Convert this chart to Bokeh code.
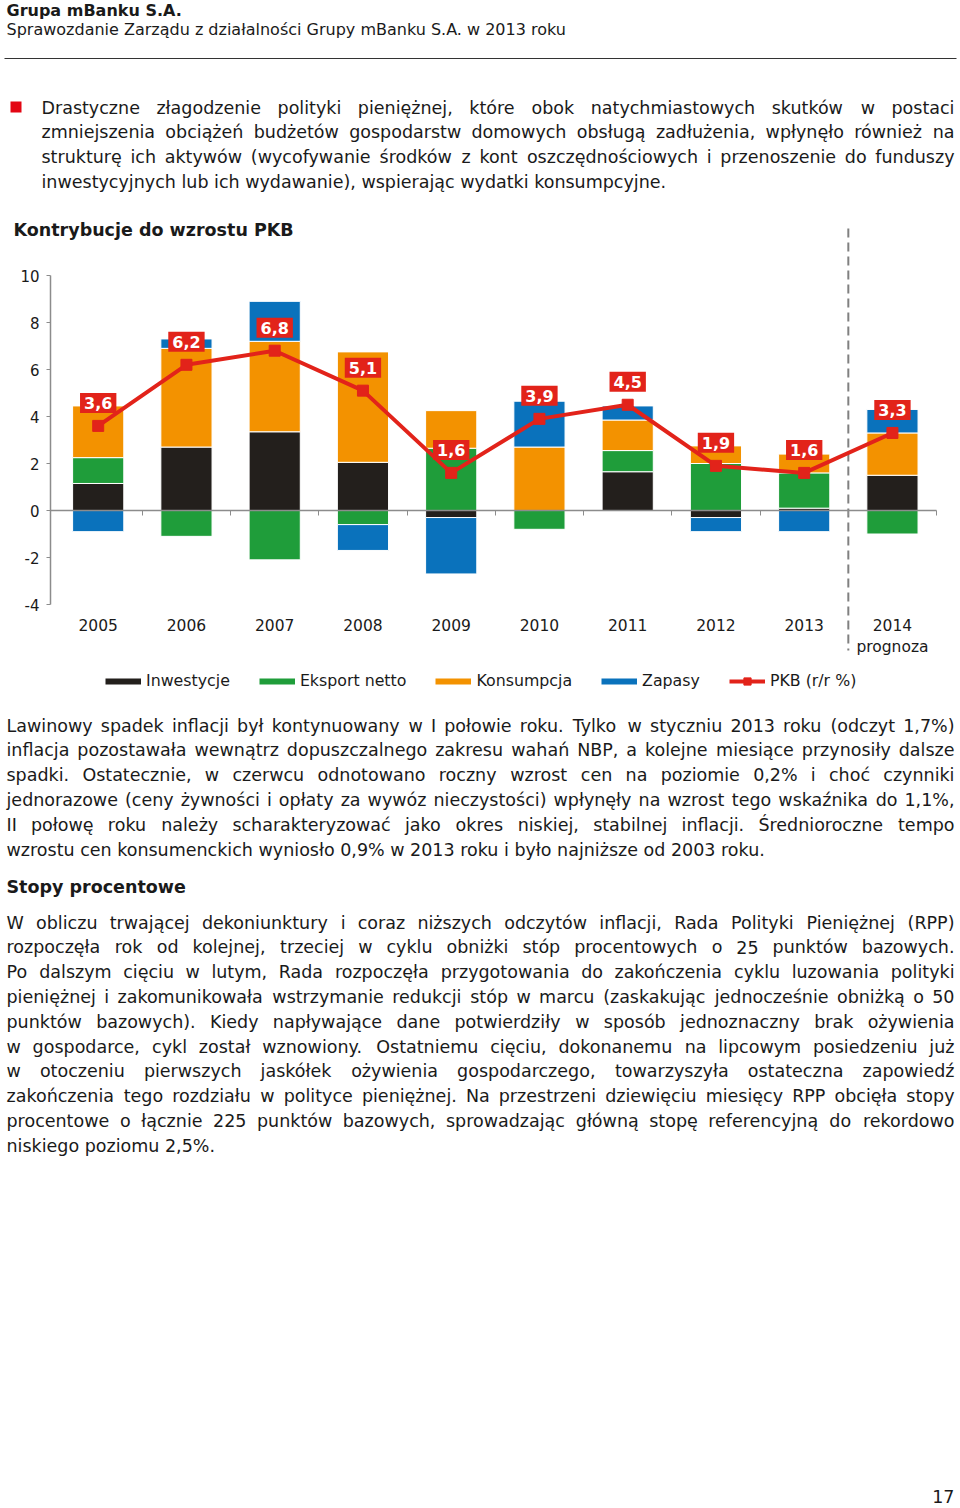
import numpy as np
from bokeh.plotting import figure
from bokeh.models import (ColumnDataSource, Range1d, FixedTicker, LabelSet, Label,
                          Legend, LegendItem, BoxAnnotation)
from bokeh.core.properties import value
from bokeh.embed import file_html
from bokeh.resources import INLINE

# ---------------- data ----------------
years = ["2005", "2006", "2007", "2008", "2009", "2010", "2011", "2012", "2013", "2014"]
year_labels = ["2005", "2006", "2007", "2008", "2009", "2010", "2011", "2012", "2013", "2014\nprognoza"]
inwestycje = [1.15, 2.7, 3.35, 2.05, -0.3, 0.0, 1.65, -0.3, 0.1, 1.5]
eksport_netto = [1.1, -1.1, -2.1, -0.6, 2.65, -0.8, 0.9, 2.0, 1.5, -1.0]
konsumpcja = [2.2, 4.2, 3.85, 4.7, 1.6, 2.7, 1.3, 0.75, 0.8, 1.8]
zapasy = [-0.9, 0.4, 1.7, -1.1, -2.4, 1.95, 0.6, -0.6, -0.9, 1.0]
pkb = [3.6, 6.2, 6.8, 5.1, 1.6, 3.9, 4.5, 1.9, 1.6, 3.3]
series_names = ["Inwestycje", "Eksport netto", "Konsumpcja", "Zapasy"]
pkb_name = "PKB (r/r %)"
y_ticks = [-4, -2, 0, 2, 4, 6, 8, 10]
y_tick_labels = ["-4", "-2", "0", "2", "4", "6", "8", "10"]

chart_title = "Kontrybucje do wzrostu PKB"
header_bold = "Grupa mBanku S.A."
header_sub = "Sprawozdanie Zarządu z działalności Grupy mBanku S.A. w 2013 roku"
bullet_lines = [
    "Drastyczne złagodzenie polityki pieniężnej, które obok natychmiastowych skutków w postaci",
    "zmniejszenia obciążeń budżetów gospodarstw domowych obsługą zadłużenia, wpłynęło również na",
    "strukturę ich aktywów (wycofywanie środków z kont oszczędnościowych i przenoszenie do funduszy",
    "inwestycyjnych lub ich wydawanie), wspierając wydatki konsumpcyjne.",
]
para2_lines = [
    "Lawinowy spadek inflacji był kontynuowany w I połowie roku. Tylko w styczniu 2013 roku (odczyt 1,7%)",
    "inflacja pozostawała wewnątrz dopuszczalnego zakresu wahań NBP, a kolejne miesiące przynosiły dalsze",
    "spadki. Ostatecznie, w czerwcu odnotowano roczny wzrost cen na poziomie 0,2% i choć czynniki",
    "jednorazowe (ceny żywności i opłaty za wywóz nieczystości) wpłynęły na wzrost tego wskaźnika do 1,1%,",
    "II połowę roku należy scharakteryzować jako okres niskiej, stabilnej inflacji. Średnioroczne tempo",
    "wzrostu cen konsumenckich wyniosło 0,9% w 2013 roku i było najniższe od 2003 roku.",
]
section_title = "Stopy procentowe"
para3_lines = [
    "W obliczu trwającej dekoniunktury i coraz niższych odczytów inflacji, Rada Polityki Pieniężnej (RPP)",
    "rozpoczęła rok od kolejnej, trzeciej w cyklu obniżki stóp procentowych o 25 punktów bazowych.",
    "Po dalszym cięciu w lutym, Rada rozpoczęła przygotowania do zakończenia cyklu luzowania polityki",
    "pieniężnej i zakomunikowała wstrzymanie redukcji stóp w marcu (zaskakując jednocześnie obniżką o 50",
    "punktów bazowych). Kiedy napływające dane potwierdziły w sposób jednoznaczny brak ożywienia",
    "w gospodarce, cykl został wznowiony. Ostatniemu cięciu, dokonanemu na lipcowym posiedzeniu już",
    "w otoczeniu pierwszych jaskółek ożywienia gospodarczego, towarzyszyła ostateczna zapowiedź",
    "zakończenia tego rozdziału w polityce pieniężnej. Na przestrzeni dziewięciu miesięcy RPP obcięła stopy",
    "procentowe o łącznie 225 punktów bazowych, sprowadzając główną stopę referencyjną do rekordowo",
    "niskiego poziomu 2,5%.",
]
page_number = "17"

# ---------------- style / layout ----------------
FONT = "DejaVu Sans"
COLORS = ["#231f1c", "#1f9d3a", "#f39200", "#0a72bc"]
RED = "#e2231a"
TEXT = "#1a1a1a"
AXIS = "#8c8c8c"
BODY_FS = 17.5

W, H = 960, 1508
PX_PER_UNIT = 23.5      # vertical pixels per percentage point
ZERO_PAGE_Y = 510       # page y of value 0
PX_PER_CAT = 88.25      # horizontal pixels per category
CAT0_PAGE_X = 97.7      # page x of the first category
AXIS_PAGE_X = 50        # page x of the value axis

x_start = -CAT0_PAGE_X / PX_PER_CAT
x_end = (W - CAT0_PAGE_X) / PX_PER_CAT
y_end = ZERO_PAGE_Y / PX_PER_UNIT
y_start = -(H - ZERO_PAGE_Y) / PX_PER_UNIT
axis_x = (AXIS_PAGE_X - CAT0_PAGE_X) / PX_PER_CAT


def sx(px):
    return px


def sy(py):
    return H - py


def vy(py):
    return (ZERO_PAGE_Y - py) / PX_PER_UNIT


# DejaVu Sans advance widths (units per em 2048), used to justify text lines
ADV = {' ': 651, '!': 821, '%': 1946, '(': 799, ')': 799, ',': 651, '-': 739, '.': 651, '/': 690,
       ':': 690, ';': 690,
       'A': 1401, 'B': 1405, 'C': 1430, 'D': 1577, 'E': 1294, 'F': 1178, 'G': 1587, 'H': 1540,
       'I': 604, 'J': 604, 'K': 1343, 'L': 1141, 'M': 1767, 'N': 1532, 'O': 1612, 'P': 1235,
       'Q': 1612, 'R': 1423, 'S': 1300, 'T': 1251, 'U': 1499, 'V': 1401, 'W': 2025, 'X': 1403,
       'Y': 1251, 'Z': 1403,
       'a': 1255, 'b': 1300, 'c': 1126, 'd': 1300, 'e': 1260, 'f': 721, 'g': 1300, 'h': 1298,
       'i': 569, 'j': 569, 'k': 1186, 'l': 569, 'm': 1995, 'n': 1298, 'o': 1253, 'p': 1300,
       'q': 1300, 'r': 842, 's': 1067, 't': 803, 'u': 1298, 'v': 1212, 'w': 1675, 'x': 1212,
       'y': 1212, 'z': 1075,
       'ą': 1255, 'ć': 1126, 'ę': 1260, 'ł': 589, 'ń': 1298, 'ó': 1253, 'ś': 1067, 'ź': 1075,
       'ż': 1075, 'Ś': 1300, 'Ż': 1403, 'Ł': 1163}
for d in "0123456789":
    ADV[d] = 1303


def wwidth(word, fs):
    return sum(ADV.get(c, 1200) for c in word) * fs / 2048.0


left_words = dict(x=[], y=[], t=[])
right_words = dict(x=[], y=[], t=[])


def add_paragraph(lines, x0, x1, y0, step, fs=BODY_FS):
    for i, line in enumerate(lines):
        y = y0 + i * step
        if i == len(lines) - 1:
            left_words["x"].append(sx(x0)); left_words["y"].append(sy(y)); left_words["t"].append(line)
            continue
        words = line.split(" ")
        widths = [wwidth(w, fs) for w in words]
        gap = (x1 - x0 - sum(widths)) / (len(words) - 1)
        x = x0
        for j, (w, wd) in enumerate(zip(words, widths)):
            if j == len(words) - 1:
                right_words["x"].append(sx(x1)); right_words["y"].append(sy(y)); right_words["t"].append(w)
            else:
                left_words["x"].append(sx(x)); left_words["y"].append(sy(y)); left_words["t"].append(w)
            x += wd + gap


add_paragraph(bullet_lines, 41, 954, 107, 24.7)
add_paragraph(para2_lines, 6, 954, 725, 24.8)
add_paragraph(para3_lines, 6, 954, 922, 24.8)

# ---------------- figure ----------------
xs = np.arange(len(years))
p = figure(width=W, height=H, x_range=Range1d(x_start, x_end), y_range=Range1d(y_start, y_end),
           output_backend="svg", toolbar_location=None,
           min_border_left=0, min_border_right=0, min_border_top=0, min_border_bottom=0)
p.outline_line_color = None
p.grid.visible = False
p.background_fill_color = "white"
p.border_fill_color = "white"

# stacked bars
pos_base = np.zeros(len(years))
neg_base = np.zeros(len(years))
for vals, color in zip([inwestycje, eksport_netto, konsumpcja, zapasy], COLORS):
    v = np.array(vals, dtype=float)
    bottom = np.where(v >= 0, pos_base, neg_base)
    top = bottom + v
    pos_base = np.where(v >= 0, top, pos_base)
    neg_base = np.where(v < 0, top, neg_base)
    p.vbar(x=xs, bottom=bottom, top=top, width=0.58, fill_color=color, line_color="white",
           line_width=1)

# forecast separator
p.segment(x0=[8.5], y0=[vy(228)], x1=[8.5], y1=[vy(650)], line_color="#808080",
          line_width=2, line_dash="9 5")

# PKB line
r_line = p.line(xs, pkb, line_color=RED, line_width=4)
r_pts = p.scatter(xs, pkb, marker="square", size=11, fill_color=RED, line_color=RED)

for xi, v in zip(xs, pkb):
    txt = f"{v:.1f}".replace(".", ",")
    kw = dict(x=float(xi), y=v, text=txt, y_offset=23, text_align="center", text_baseline="middle",
              text_color="white", text_font_style="bold", text_font=FONT, text_font_size="16px",
              background_fill_color=RED, background_fill_alpha=1)
    try:
        lab = Label(padding=4, **kw)
    except Exception:
        lab = Label(**kw)
    p.add_layout(lab)

# category labels
p.text(x=xs[:-1], y=[vy(618)] * (len(xs) - 1), text=year_labels[:-1], text_align="center",
       text_baseline="top", text_font=value(FONT), text_font_size="15.5px", text_color=TEXT)
p.text(x=xs[-1:], y=[vy(616)], text=year_labels[-1:], text_align="center",
       text_baseline="top", text_font=value(FONT), text_font_size="15.5px", text_color=TEXT,
       text_line_height=1.2)

# axes (placed at fixed data locations)
p.xaxis.fixed_location = 0
p.xaxis.bounds = (axis_x, 9.5)
p.xaxis.ticker = FixedTicker(ticks=[i + 0.5 for i in range(len(years))])
p.xaxis.major_label_text_color = None
p.xaxis.minor_tick_line_color = None
p.xaxis.major_tick_in = 0
p.xaxis.major_tick_out = 5
p.xaxis.axis_line_color = AXIS
p.xaxis.axis_line_width = 1.5
p.xaxis.major_tick_line_color = AXIS

p.yaxis.fixed_location = axis_x
p.yaxis.bounds = (min(y_ticks), max(y_ticks))
p.yaxis.ticker = FixedTicker(ticks=y_ticks)
p.yaxis.major_label_overrides = {t: lab for t, lab in zip(y_ticks, y_tick_labels)}
p.yaxis.minor_tick_line_color = None
p.yaxis.major_tick_in = 0
p.yaxis.major_tick_out = 4
p.yaxis.major_label_standoff = 7
p.yaxis.axis_line_color = AXIS
p.yaxis.axis_line_width = 1.5
p.yaxis.major_tick_line_color = AXIS
p.yaxis.major_label_text_font = FONT
p.yaxis.major_label_text_font_size = "15px"
p.yaxis.major_label_text_color = TEXT

# legend
items = []
for name, color in zip(series_names, COLORS):
    r = p.line(x=[np.nan], y=[np.nan], line_color=color, line_width=6)
    items.append(LegendItem(label=name, renderers=[r]))
items.append(LegendItem(label=pkb_name, renderers=[r_line, r_pts]))
legend = Legend(items=items, location=(sx(105), sy(690)), orientation="horizontal", padding=0,
                margin=0, spacing=29, label_standoff=5, glyph_width=36, glyph_height=18,
                label_height=18, border_line_color=None, background_fill_alpha=0,
                label_text_font=FONT, label_text_font_size="15.8px", label_text_color=TEXT)
p.add_layout(legend)

# page texts
p.add_layout(LabelSet(x="x", y="y", text="t", source=ColumnDataSource(left_words),
                      x_units="screen", y_units="screen", text_font=value(FONT),
                      text_color=TEXT, text_baseline="middle", text_align="left",
                      text_font_size=f"{BODY_FS}px"))
p.add_layout(LabelSet(x="x", y="y", text="t", source=ColumnDataSource(right_words),
                      x_units="screen", y_units="screen", text_font=value(FONT),
                      text_color=TEXT, text_baseline="middle", text_align="right",
                      text_font_size=f"{BODY_FS}px"))

common = dict(x_units="screen", y_units="screen", text_font=FONT, text_color=TEXT,
              text_baseline="middle")
p.add_layout(Label(x=sx(6), y=sy(10), text=header_bold, text_align="left", text_font_style="bold",
                   text_font_size="16px", **common))
p.add_layout(Label(x=sx(6), y=sy(29), text=header_sub, text_align="left",
                   text_font_size="16px", **common))
p.add_layout(Label(x=sx(13), y=sy(229), text=chart_title, text_align="left",
                   text_font_style="bold", text_font_size="17.5px", **common))
p.add_layout(Label(x=sx(6), y=sy(886), text=section_title, text_align="left",
                   text_font_style="bold", text_font_size="17.5px", **common))
p.add_layout(Label(x=sx(954), y=sy(1496), text=page_number, text_align="right",
                   text_font_size="17.5px", **common))

# rule and bullet
box_units = dict(left_units="screen", right_units="screen", top_units="screen", bottom_units="screen")
p.add_layout(BoxAnnotation(left=sx(4), right=sx(956), top=sy(57.5), bottom=sy(58.6),
                           fill_color="#333333", fill_alpha=1, line_color=None, **box_units))
p.add_layout(BoxAnnotation(left=sx(10), right=sx(21), top=sy(101), bottom=sy(112),
                           fill_color="#e30613", fill_alpha=1, line_color=None, **box_units))

open("out.html", "w").write(file_html(p, INLINE))
